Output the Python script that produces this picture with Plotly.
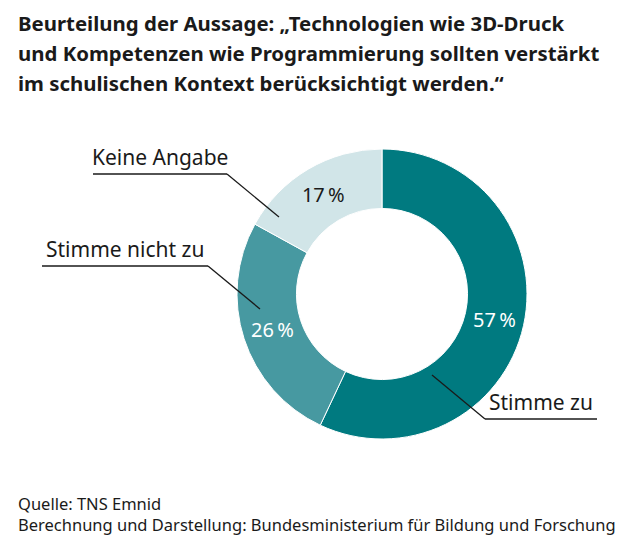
import plotly.graph_objects as go

antworten = ["Stimme zu", "Stimme nicht zu", "Keine Angabe"]
anteile = [57, 26, 17]
farben = ["#007a80", "#4799a1", "#d1e5e8"]
textfarben = ["white", "white", "#1a1a1a"]

titelzeilen = [
    "Beurteilung der Aussage: „Technologien wie 3D-Druck",
    "und Kompetenzen wie Programmierung sollten verstärkt",
    "im schulischen Kontext berücksichtigt werden.“",
]
quelle = ("Quelle: TNS Emnid<br>"
          "Berechnung und Darstellung: Bundesministerium für Bildung und Forschung")

# Die Seite hat 8px Rand, daher die Figur etwas kleiner und versetzt rechnen
RAND = 8
W, H = 636 - 2 * RAND, 559 - 2 * RAND
schrift = "Noto Sans"


def px(x):
    return (x - RAND) / W


def py(y):
    return 1 - (y - RAND) / H


fig = go.Figure()
fig.add_trace(go.Pie(
    labels=antworten,
    values=anteile,
    sort=False,
    direction="clockwise",
    rotation=0,
    hole=0.59,
    marker=dict(colors=farben, line=dict(color="white", width=1)),
    texttemplate="%{value}\u2009%",
    textposition="inside",
    insidetextorientation="horizontal",
    textfont=dict(family=schrift, size=20, color=textfarben),
    hoverinfo="label+percent",
    domain=dict(x=[px(237), px(527)], y=[py(439), py(149)]),
    showlegend=False,
))

# Beschriftungen mit Fuehrungslinien
beschriftung = [
    ("Keine Angabe", 93, 227, 174, 279, 217, "right"),
    ("Stimme nicht zu", 42, 208, 266, 260, 309, "right"),
    ("Stimme zu", 485, 597, 419, 432, 375, "left"),
]
for text, x0, x1, y, zx, zy, seite in beschriftung:
    fig.add_annotation(x=px((x0 + x1) / 2), y=py(y - 1), xref="paper", yref="paper",
                       text=text, showarrow=False, xanchor="center", yanchor="bottom",
                       font=dict(family=schrift, size=21, color="#1a1a1a"))
    fig.add_shape(type="line", xref="paper", yref="paper",
                  x0=px(x0), x1=px(x1), y0=py(y), y1=py(y),
                  line=dict(color="#1a1a1a", width=1.3))
    sx = x1 if seite == "right" else x0
    fig.add_shape(type="line", xref="paper", yref="paper",
                  x0=px(sx), x1=px(zx), y0=py(y), y1=py(zy),
                  line=dict(color="#1a1a1a", width=1.3))

for i, zeile in enumerate(titelzeilen):
    fig.add_annotation(x=px(16), y=py(23 + 30 * i), xref="paper", yref="paper",
                       text="<b>" + zeile + "</b>", showarrow=False,
                       xanchor="left", yanchor="middle", align="left",
                       font=dict(family=schrift, size=20.4, color="#1a1a1a"))

fig.add_annotation(x=px(16), y=py(490), xref="paper", yref="paper", text=quelle,
                   showarrow=False, xanchor="left", yanchor="top", align="left",
                   font=dict(family=schrift, size=16.5, color="#1a1a1a"))

fig.update_layout(
    width=W, height=H,
    margin=dict(l=0, r=0, t=0, b=0),
    paper_bgcolor="white",
    plot_bgcolor="white",
)

fig.write_html("out.html")
